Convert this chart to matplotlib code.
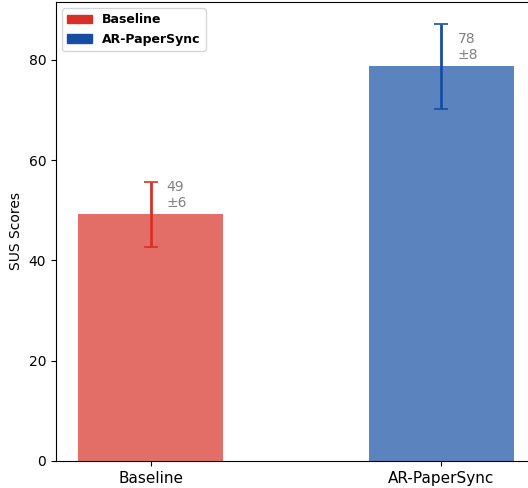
import matplotlib
matplotlib.use('Agg')
import matplotlib.pyplot as plt
from matplotlib.patches import Patch

groups = ['Baseline', 'AR-PaperSync']
means = [49.2, 78.7]
stds = [6.5, 8.5]
colors = ['#d73027', '#164ea3']

fig = plt.figure(figsize=(5.28, 4.88), dpi=100)
ax = fig.add_axes([56 / 528, 27 / 488, 480 / 528, 459 / 488])

x = range(len(groups))
for i, (m, s, c) in enumerate(zip(means, stds, colors)):
    ax.bar(i, m, width=0.5, color=c, alpha=0.7)
    ax.errorbar(i, m, yerr=s, color=c, capsize=5, elinewidth=2, capthick=1.2)
    ax.text(i + 0.055, m + 0.8, f"{int(m)}\n±{int(s)}", color='gray',
            fontsize=10, ha='left', va='bottom')

ax.set_xticks(list(x))
ax.set_xticklabels(groups, fontsize=11)
ax.set_ylabel('SUS Scores')

handles = [Patch(color=c, label=g) for g, c in zip(groups, colors)]
ax.legend(handles=handles, loc='upper left', prop={'weight': 'bold', 'size': 9})

fig.savefig('out.png', dpi=100)
